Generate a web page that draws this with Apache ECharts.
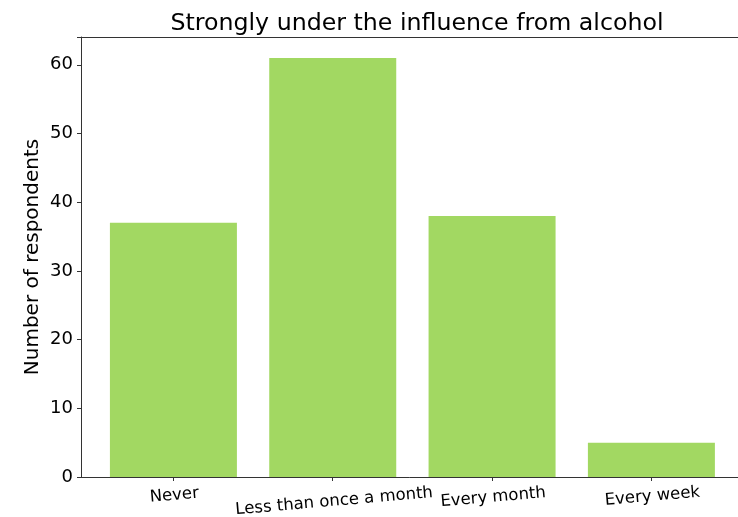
<!DOCTYPE html>
<html>
<head>
<meta charset="utf-8">
<script src="https://cdn.jsdelivr.net/npm/echarts@6/dist/echarts.min.js"></script>
<style>
  html, body { margin: 0; padding: 0; background: #fff; }
  #chart { width: 738px; height: 517px; }
</style>
</head>
<body>
<div id="chart"></div>
<script>
const categories = ['Never', 'Less than once a month', 'Every month', 'Every week'];
const respondents = [37, 61, 38, 5];
const yTicks = [0, 10, 20, 30, 40, 50, 60];

const chart = echarts.init(document.getElementById('chart'));

// matplotlib-like drop for rotated labels: longer labels sit lower
const labelPad = [2, 8, 4, 3];

chart.setOption({
    animation: false,
    title: {
        text: 'Strongly under the influence from alcohol',
        left: 412,
        textAlign: 'center',
        top: 7,
        textStyle: { fontFamily: 'DejaVu Sans', fontSize: 23.7, fontWeight: 'normal', color: '#000' }
    },
    grid: { left: 81, right: -9, top: 37, bottom: 40, outerBoundsMode: 'none' },
    xAxis: {
        type: 'value',
        min: -0.58,
        max: 3.6,
        splitLine: { show: false },
        axisLine: { show: true, onZero: false, lineStyle: { color: '#333', width: 1 } },
        axisTick: { show: true, customValues: [0, 1, 2, 3], length: 4, lineStyle: { color: '#333' } },
        axisLabel: {
            customValues: [0, 1, 2, 3],
            rotate: 5,
            align: 'center',
            verticalAlign: 'top',
            margin: 8,
            fontFamily: 'DejaVu Sans',
            fontSize: 16.5,
            color: '#000',
            formatter: v => '{p' + v + '|' + categories[v] + '}',
            rich: Object.fromEntries(labelPad.map((p, i) => ['p' + i, {
                padding: [p, 0, 0, 0], fontFamily: 'DejaVu Sans', fontSize: 16.5, color: '#000'
            }]))
        }
    },
    yAxis: {
        type: 'value',
        min: 0,
        max: 64.05,
        interval: 10,
        name: 'Number of respondents',
        nameLocation: 'middle',
        nameGap: 38,
        nameMoveOverlap: false,
        nameTextStyle: { fontFamily: 'DejaVu Sans', fontSize: 20, color: '#000' },
        splitLine: { show: false },
        axisLine: { show: true, onZero: false, lineStyle: { color: '#333', width: 1 } },
        axisTick: { show: true, length: 4, lineStyle: { color: '#333' } },
        axisLabel: {
            fontFamily: 'DejaVu Sans',
            fontSize: 18,
            color: '#000',
            margin: 8,
            formatter: v => (yTicks.includes(v) ? String(v) : '')
        }
    },
    series: [{
        type: 'bar',
        data: respondents.map((v, i) => [i, v]),
        barWidth: 127,
        itemStyle: { color: '#a2d862' }
    }]
});

// top spine of the axes box
chart.setOption({
    graphic: [{
        type: 'line',
        shape: { x1: 81, y1: 37.5, x2: 747, y2: 37.5 },
        style: { stroke: '#333', lineWidth: 1 }
    }]
});
</script>
</body>
</html>
